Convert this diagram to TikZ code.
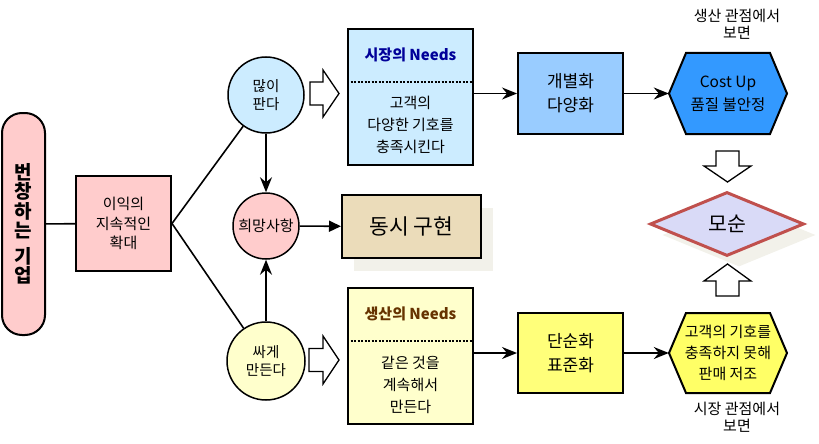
\documentclass[tikz,border=0pt]{standalone}
\usepackage{fontspec}
\setmainfont{Noto Sans CJK KR}
\usetikzlibrary{arrows.meta, positioning, shapes.geometric, shadows, calc}

\definecolor{pinkfill}{HTML}{FFCCCC}
\definecolor{skyfill}{HTML}{CCECFF}
\definecolor{creamfill}{HTML}{FFFFCC}
\definecolor{bluefill}{HTML}{99CCFF}
\definecolor{deepblue}{HTML}{3399FF}
\definecolor{lemon}{HTML}{FFFF66}
\definecolor{paleyellow}{HTML}{FFFF7A}
\definecolor{parchment}{HTML}{EBDCBA}
\definecolor{lavender}{HTML}{D9DAF7}
\definecolor{clashred}{HTML}{C0504D}
\definecolor{shade}{HTML}{F2F1EA}
\definecolor{navytitle}{HTML}{000099}
\definecolor{browntitle}{HTML}{663300}

\begin{document}
\begin{tikzpicture}[x=1pt, y=-1pt,
  box/.style={rectangle, draw, line width=2pt, inner sep=0pt, align=center, font=\fontsize{15}{19.5}\selectfont},
  bubble/.style={circle, draw, line width=1.5pt, inner sep=0pt, align=center, font=\fontsize{14.5}{18}\selectfont},
  needs/.style={rectangle, draw, line width=2pt, minimum width=125pt, minimum height=136pt},
  needtitle/.style={font=\fontsize{15}{16}\selectfont\bfseries},
  needbody/.style={align=center, font=\fontsize{15}{22}\selectfont},
  hexlabel/.style={minimum width=118pt, minimum height=81pt, inner sep=0pt, align=center},
  hexshape/.style={draw, line width=2pt, line join=miter},
  hollow/.style={draw, fill=white, line width=1.3pt},
  arrow/.style={-{Stealth[length=15pt, width=12pt, inset=5pt]}, line width=1.6pt},
  link/.style={line width=1.6pt},
  note/.style={align=center, font=\fontsize{15}{17}\selectfont}
]
\useasboundingbox (0,0) rectangle (819,444);

% left side
\node[box, rounded corners=20pt, fill=pinkfill, minimum width=43pt, minimum height=222pt, font=\fontsize{19}{19.5}\selectfont\bfseries] (firm) at (23.5,224) {번\\창\\하\\는\\[6pt]기\\업};
\node[box, fill=pinkfill, minimum width=95pt, minimum height=95pt] (profit) at (123.5,223.5) {이익의\\지속적인\\확대};

\node[bubble, fill=skyfill, minimum size=76pt] (sellmore) at (266,95) {많이\\판다};
\node[bubble, fill=pinkfill, minimum size=66pt, font=\fontsize{15}{16}\selectfont] (wish) at (266,226) {희망사항};
\node[bubble, fill=creamfill, minimum size=78pt] (makecheap) at (266,361) {싸게\\만든다};

\node[box, fill=parchment, minimum width=139pt, minimum height=63pt, font=\fontsize{21.5}{24}\selectfont,
  drop shadow={fill=shade, opacity=1, shadow xshift=12pt, shadow yshift=-13pt}] (together) at (411.5,226.5) {동시 구현};

% needs boxes
\node[needs, fill=skyfill] (market) at (410.5,97) {};
\node[needtitle, text=navytitle] (markettitle) at ([yshift=42pt]market.center) {시장의 Needs};
\draw[dash pattern=on 2pt off 1.5pt, line width=2pt] ([yshift=15pt]market.west) -- ([yshift=15pt]market.east);
\node[needbody] (marketbody) at ([yshift=-28pt]market.center) {고객의\\다양한 기호를\\충족시킨다};

\node[needs, fill=creamfill] (production) at (410.5,356) {};
\node[needtitle, text=browntitle] (prodtitle) at ([yshift=42pt]production.center) {생산의 Needs};
\draw[dash pattern=on 2pt off 1.5pt, line width=2pt] ([yshift=15pt]production.west) -- ([yshift=15pt]production.east);
\node[needbody] (prodbody) at ([yshift=-29pt]production.center) {같은 것을\\계속해서\\만든다};

% hollow arrows
\draw[hollow] (310,82) -- (323,82) -- (323,70) -- (339,93.5) -- (323,117) -- (323,105) -- (310,105) -- cycle;
\draw[hollow] (309,348.5) -- (323,348.5) -- (323,336) -- (339,360) -- (323,384) -- (323,371.5) -- (309,371.5) -- cycle;
\draw[hollow] (716,151) -- (739,151) -- (739,166) -- (751,166) -- (727.5,182) -- (704,166) -- (716,166) -- cycle;
\draw[hollow] (727.5,264) -- (751,281) -- (739,281) -- (739,296) -- (716,296) -- (716,281) -- (704,281) -- cycle;

% right side
\node[box, fill=bluefill, minimum width=105pt, minimum height=81pt, font=\fontsize{17}{24}\selectfont] (variety) at (570.5,93.5) {개별화\\다양화};
\node[box, fill=paleyellow, minimum width=105pt, minimum height=80pt, font=\fontsize{17}{24}\selectfont] (standard) at (570.5,353) {단순화\\표준화};

\draw[hexshape, fill=deepblue] (669,93.5) -- (686,53) -- (770,53) -- (787,93.5) -- (770,134) -- (686,134) -- cycle;
\node[hexlabel, font=\fontsize{15.5}{23}\selectfont] (costup) at (728,93.5) {Cost Up\\품질 불안정};
\draw[hexshape, fill=lemon] (669,353) -- (686,313) -- (770,313) -- (787,353) -- (770,393) -- (686,393) -- cycle;
\node[hexlabel, font=\fontsize{15}{21}\selectfont] (slowsale) at (728,353) {고객의 기호를\\충족하지 못해\\판매 저조};

\node[diamond, draw=clashred, line width=3pt, fill=lavender, minimum width=154pt, minimum height=64pt, inner sep=0pt,
  font=\fontsize{20.5}{21}\selectfont,
  drop shadow={fill=shade, opacity=1, shadow xshift=12pt, shadow yshift=-11pt}] (clash) at (727,224) {모순};

\node[note] (prodview) at (737,24.5) {생산 관점에서\\보면};
\node[note] (marketview) at (737,417.5) {시장 관점에서\\보면};

% connectors
\draw[link] (firm) -- (profit);
\draw[link] (profit.east) -- (sellmore);
\draw[link] (profit.east) -- (makecheap);
\draw[arrow] (sellmore) -- (wish);
\draw[arrow] (makecheap) -- (wish);
\draw[-{Triangle[length=12pt, width=11pt]}, line width=1.6pt] (wish) -- (together);
\draw[arrow] (market.east |- variety) -- (variety);
\draw[arrow] (variety) -- (costup);
\draw[arrow] (production.east |- standard) -- (standard);
\draw[arrow] (standard) -- (slowsale);
\end{tikzpicture}
\end{document}
